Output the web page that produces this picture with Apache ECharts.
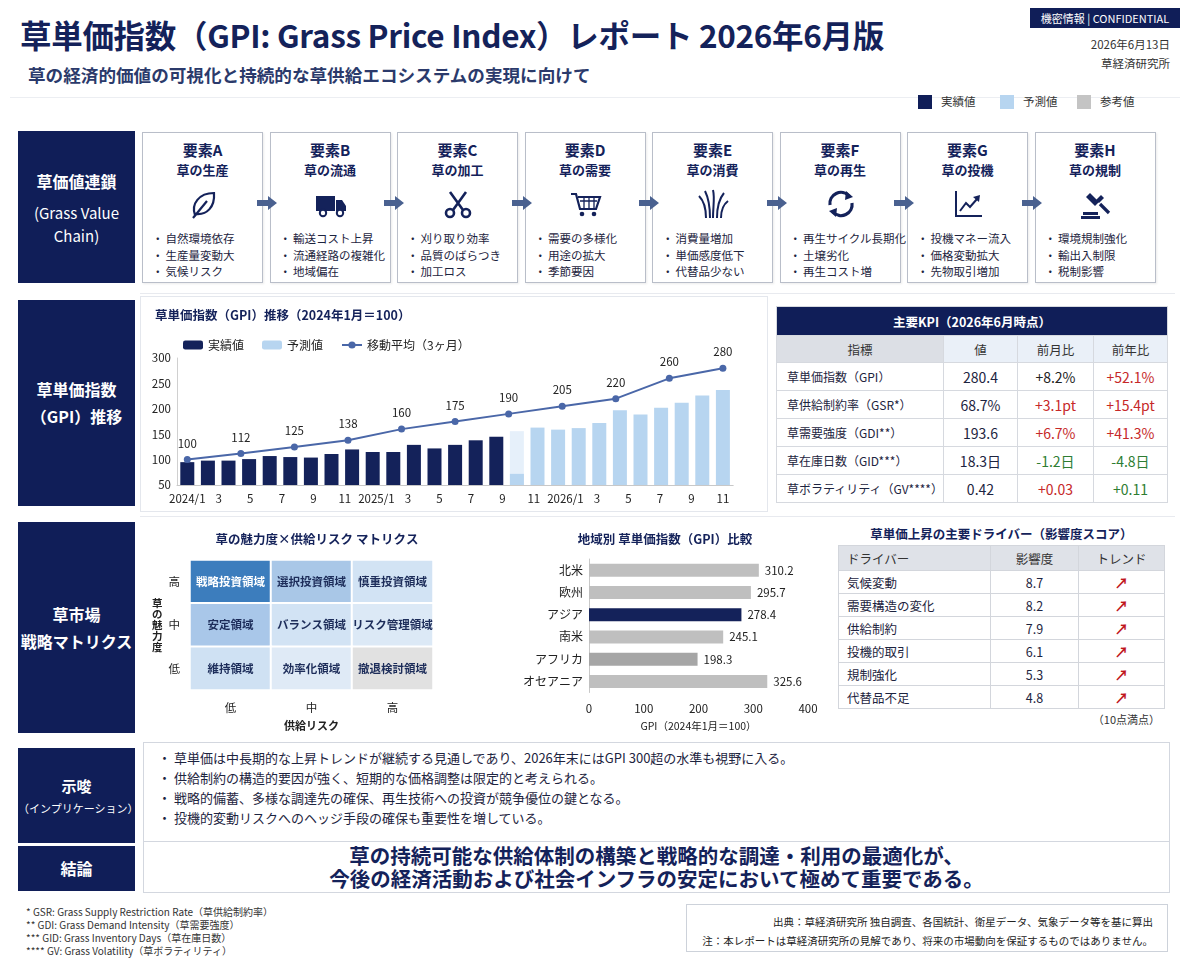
<!DOCTYPE html>
<html lang="ja">
<head>
<meta charset="utf-8">
<title>草単価指数（GPI）レポート 2026年6月版</title>
<script src="https://cdn.jsdelivr.net/npm/echarts@6.0.0/dist/echarts.min.js"></script>
<style>
* { box-sizing: border-box; margin: 0; padding: 0; }
body { width: 1200px; height: 960px; position: relative; background: #fff; overflow: hidden;
  font-family: "Noto Sans CJK JP", "Noto Sans", sans-serif; color: #1d2440; }
.abs { position: absolute; }
.side { position: absolute; left: 18px; width: 117px; background: #101e58; color: #fff;
  display: flex; flex-direction: column; justify-content: center; align-items: center;
  text-align: center; font-weight: bold; font-size: 16px; line-height: 27px; }
.panel { position: absolute; border: 1px solid #e4e7ed; background: #fff; }
.chain { position: absolute; top: 132px; width: 121px; height: 151px; border: 1px solid #b9bec9;
  background: #fff; box-shadow: 1px 1px 2px rgba(0,0,0,0.08); }
.chain .t1 { position: absolute; top: 6px; width: 100%; text-align: center; font-weight: bold; font-size: 15px; color: #14225a; }
.chain .t2 { position: absolute; top: 27px; width: 100%; text-align: center; font-weight: bold; font-size: 13px; color: #14225a; }
.chain svg { position: absolute; top: 55px; left: 44px; width: 32px; height: 32px; }
.chain ul { position: absolute; top: 97px; left: 9px; list-style: none; font-size: 11.5px; line-height: 16.5px; color: #1d2440; white-space: nowrap; }
.chain li::before { content: "・"; margin-right: 2px; }
.arrow { position: absolute; top: 196px; width: 20px; height: 14px; }
table { border-collapse: collapse; position: absolute; }
#kpi { left: 776px; top: 306px; width: 392px; font-size: 12px; }
#kpi td, #kpi th { border: 1px solid #d6d9df; height: 28px; text-align: center; white-space: nowrap; }
#kpi .ttl { background: #101e58; color: #fff; font-weight: bold; font-size: 12.5px; height: 29px; }
#kpi .hd th { font-weight: normal; color: #333; background: #eaf0f8; height: 27px; font-size: 12.5px; }
#kpi .hd th:first-child { background: #dcdfe5; }
#kpi td:first-child { text-align: left; padding-left: 10px; }
#drv { left: 838px; top: 545px; width: 327px; font-size: 12.5px; }
#drv td, #drv th { border: 1px solid #d3d6dc; height: 23px; text-align: center; }
#drv th { background: #dfe2e8; font-weight: normal; color: #333; height: 25px; }
#drv th:first-child, #drv td:first-child { text-align: left; padding-left: 8px; }
#drv .up { color: #c0161c; font-weight: bold; font-size: 14px; }
.box { position: absolute; left: 143px; width: 1027px; border: 1px solid #d3d7df; background: #fff; }
</style>
</head>
<body>

<!-- header -->
<div class="abs" style="left:20px;top:11px;font-size:31.5px;font-weight:bold;color:#14225a;letter-spacing:-0.3px;white-space:nowrap;">草単価指数（GPI: Grass Price Index）レポート 2026年6月版</div>
<div class="abs" style="left:28px;top:62px;font-size:17.6px;font-weight:bold;color:#2b3a6b;white-space:nowrap;">草の経済的価値の可視化と持続的な草供給エコシステムの実現に向けて</div>
<div class="abs" style="left:1030px;top:8px;width:150px;height:20px;background:#101e58;color:#fff;font-size:11px;line-height:20px;text-align:center;">機密情報 | CONFIDENTIAL</div>
<div class="abs" style="right:30px;top:35px;font-size:11.5px;color:#333;text-align:right;line-height:19px;">2026年6月13日<br>草経済研究所</div>
<div class="abs" style="left:10px;top:97px;width:1170px;height:1px;background:#eceef2;"></div>
<div class="abs" style="left:918px;top:95px;width:14px;height:14px;background:#101e58;"></div>
<div class="abs" style="left:941px;top:93px;font-size:11.5px;color:#333;">実績値</div>
<div class="abs" style="left:1000px;top:95px;width:14px;height:14px;background:#b7d5f0;"></div>
<div class="abs" style="left:1023px;top:93px;font-size:11.5px;color:#333;">予測値</div>
<div class="abs" style="left:1077px;top:95px;width:14px;height:14px;background:#c4c4c4;"></div>
<div class="abs" style="left:1100px;top:93px;font-size:11.5px;color:#333;">参考値</div>

<!-- section 1: value chain -->
<div class="side" style="top:131px;height:152px;">草価値連鎖<span style="font-weight:normal;font-size:15px;line-height:23px;margin-top:6px;">(Grass Value<br>Chain)</span></div>
<div id="chainRow"></div>
<div class="abs" style="left:140px;top:293px;width:1035px;height:1px;background:#e8eaef;"></div>

<!-- section 2: GPI trend + KPI -->
<div class="side" style="top:300px;height:206px;">草単価指数<br>（GPI）推移</div>
<div class="panel" style="left:140px;top:296px;width:628px;height:216px;"></div>
<div id="trend" class="abs" style="left:140px;top:298px;width:625px;height:212px;"></div>
<table id="kpi"></table>

<!-- section 3: matrix -->
<div class="side" style="top:522px;height:211px;">草市場<br>戦略マトリクス</div>
<div class="abs" style="left:140px;top:516px;width:1035px;height:1px;background:#e8eaef;"></div>
<div id="matrix" class="abs" style="left:140px;top:518px;width:380px;height:218px;"></div>
<div id="region" class="abs" style="left:520px;top:518px;width:310px;height:218px;"></div>
<div class="abs" style="left:838px;top:524px;width:327px;text-align:center;font-size:12.5px;font-weight:bold;color:#14225a;">草単価上昇の主要ドライバー（影響度スコア）</div>
<table id="drv"></table>
<div class="abs" style="left:1000px;top:711px;width:160px;text-align:right;font-size:11px;color:#333;">（10点満点）</div>

<!-- implications -->
<div class="side" style="top:748px;height:95px;font-size:15px;line-height:24px;">示唆<span style="font-size:11px;font-weight:normal;line-height:20px;">（インプリケーション）</span></div>
<div class="box" style="top:742px;height:105px;">
  <ul id="impl" style="list-style:none;position:absolute;left:14px;top:5px;font-size:13px;line-height:20px;color:#1d2440;white-space:nowrap;"></ul>
</div>

<!-- conclusion -->
<div class="side" style="top:846px;height:45px;">結論</div>
<div class="box" style="top:841px;height:52px;text-align:center;font-size:20.5px;font-weight:bold;color:#14225a;line-height:23px;padding-top:2px;white-space:nowrap;">
草の持続可能な供給体制の構築と戦略的な調達・利用の最適化が、<br>今後の経済活動および社会インフラの安定において極めて重要である。
</div>

<!-- footnotes -->
<div class="abs" style="left:26px;top:905px;font-size:10px;line-height:13px;color:#333;">
* GSR: Grass Supply Restriction Rate（草供給制約率）<br>
** GDI: Grass Demand Intensity（草需要強度）<br>
*** GID: Grass Inventory Days（草在庫日数）<br>
**** GV: Grass Volatility（草ボラティリティ）
</div>
<div class="abs" style="left:686px;top:904px;width:482px;height:48px;border:1px solid #cdd2da;text-align:right;padding:7px 14px 0 0;font-size:10.5px;line-height:19px;color:#222;white-space:nowrap;">
出典：草経済研究所 独自調査、各国統計、衛星データ、気象データ等を基に算出<br>
注：本レポートは草経済研究所の見解であり、将来の市場動向を保証するものではありません。
</div>

<script>
"use strict";

// ---- value chain ----
var chainKeys = ['要素A', '要素B', '要素C', '要素D', '要素E', '要素F', '要素G', '要素H'];
var chainNames = ['草の生産', '草の流通', '草の加工', '草の需要', '草の消費', '草の再生', '草の投機', '草の規制'];
var chainPoints = [
    ['自然環境依存', '生産量変動大', '気候リスク'],
    ['輸送コスト上昇', '流通経路の複雑化', '地域偏在'],
    ['刈り取り効率', '品質のばらつき', '加工ロス'],
    ['需要の多様化', '用途の拡大', '季節要因'],
    ['消費量増加', '単価感度低下', '代替品少ない'],
    ['再生サイクル長期化', '土壌劣化', '再生コスト増'],
    ['投機マネー流入', '価格変動拡大', '先物取引増加'],
    ['環境規制強化', '輸出入制限', '税制影響']
];

// ---- GPI trend ----
var trendLabels = ['2024/1', '3', '5', '7', '9', '11', '2025/1', '3', '5', '7', '9', '11', '2026/1', '3', '5', '7', '9', '11'];
var actualGpi = [95, 98, 98, 101, 107, 105, 104, 111, 120, 115, 115, 129, 122, 129, 138, 145,
    null, null, null, null, null, null, null, null, null, null, null];
var forecastGpi = [null, null, null, null, null, null, null, null, null, null, null, null, null, null, null, null,
    72, 163, 159, 162, 172, 197, 189, 202, 212, 226, 237];
var forecastFaint = [null, null, null, null, null, null, null, null, null, null, null, null, null, null, null, null,
    156, null, null, null, null, null, null, null, null, null, null];
var movingAvg = [100, 112, 125, 138, 160, 175, 190, 205, 220, 260, 280];

// ---- KPI ----
var kpiNames = ['草単価指数（GPI）', '草供給制約率（GSR*）', '草需要強度（GDI**）', '草在庫日数（GID***）', '草ボラティリティ（GV****）'];
var kpiValues = ['280.4', '68.7%', '193.6', '18.3日', '0.42'];
var kpiMoM = ['+8.2%', '+3.1pt', '+6.7%', '-1.2日', '+0.03'];
var kpiYoY = ['+52.1%', '+15.4pt', '+41.3%', '-4.8日', '+0.11'];

// ---- matrix ----
var riskLevels = ['低', '中', '高'];
var appealLevels = ['低', '中', '高'];
var matrixCells = [
    [0, 2, '戦略投資領域'], [1, 2, '選択投資領域'], [2, 2, '慎重投資領域'],
    [0, 1, '安定領域'], [1, 1, 'バランス領域'], [2, 1, 'リスク管理領域'],
    [0, 0, '維持領域'], [1, 0, '効率化領域'], [2, 0, '撤退検討領域']
];

// ---- regions ----
var regions = ['北米', '欧州', 'アジア', '南米', 'アフリカ', 'オセアニア'];
var regionGpi = [310.2, 295.7, 278.4, 245.1, 198.3, 325.6];

// ---- drivers ----
var drivers = ['気候変動', '需要構造の変化', '供給制約', '投機的取引', '規制強化', '代替品不足'];
var driverScores = [8.7, 8.2, 7.9, 6.1, 5.3, 4.8];

// ---- implications ----
var implications = [
    '草単価は中長期的な上昇トレンドが継続する見通しであり、2026年末にはGPI 300超の水準も視野に入る。',
    '供給制約の構造的要因が強く、短期的な価格調整は限定的と考えられる。',
    '戦略的備蓄、多様な調達先の確保、再生技術への投資が競争優位の鍵となる。',
    '投機的変動リスクへのヘッジ手段の確保も重要性を増している。'
];

var NAVY = '#14225a';
var FONT = '"Noto Sans CJK JP", "Noto Sans", sans-serif';

var icons = [
    '<path d="M8 27 C4 16 12 5 27 5 C28 19 20 27 9 26 Z" fill="none" stroke="#14225a" stroke-width="2.2"/><path d="M6 30 L20 13" stroke="#14225a" stroke-width="2.2"/>',
    '<rect x="1" y="8" width="19" height="15" fill="#14225a"/><path d="M21 12 h6 l4 6 v5 h-10 z" fill="#14225a"/><circle cx="8" cy="25" r="3.2" fill="#fff" stroke="#14225a" stroke-width="2"/><circle cx="25" cy="25" r="3.2" fill="#fff" stroke="#14225a" stroke-width="2"/>',
    '<circle cx="8" cy="25" r="4" fill="none" stroke="#14225a" stroke-width="2.6"/><circle cx="24" cy="25" r="4" fill="none" stroke="#14225a" stroke-width="2.6"/><path d="M11 22 L24 4 M21 22 L8 4" stroke="#14225a" stroke-width="2.6"/>',
    '<path d="M1 6 h5 l4 15 h16 l4 -12 h-22" fill="none" stroke="#14225a" stroke-width="2.2"/><path d="M10 13 h17 M14 9 v12 M19 9 v12 M24 9 v12" stroke="#14225a" stroke-width="1.3"/><circle cx="12" cy="26" r="2.3" fill="#14225a"/><circle cx="24" cy="26" r="2.3" fill="#14225a"/>',
    '<path d="M9 30 C9 20 6 12 2 8 M13 30 C13 18 11 9 8 3 M16 30 C16 18 18 10 16 2 M20 30 C20 19 22 11 27 5 M24 30 C24 22 27 16 31 13" fill="none" stroke="#14225a" stroke-width="2"/>',
    '<path d="M5 17 A11 11 0 0 1 24 8" fill="none" stroke="#14225a" stroke-width="3.2"/><path d="M21 3 L28 9 L20 12 Z" fill="#14225a"/><path d="M27 15 A11 11 0 0 1 8 24" fill="none" stroke="#14225a" stroke-width="3.2"/><path d="M11 29 L4 23 L12 20 Z" fill="#14225a"/>',
    '<path d="M4 3 V28 H30" fill="none" stroke="#14225a" stroke-width="2"/><path d="M8 23 L14 15 L18 19 L25 11" fill="none" stroke="#14225a" stroke-width="2"/><path d="M21 9 L28 7 L27 14 Z" fill="#14225a"/>',
    '<path d="M10 5 L19 14 L15 18 L6 9 Z" fill="#14225a"/><path d="M16 12 L21 7 L24 10 L19 15 Z" fill="#14225a"/><path d="M20 16 L29 25" stroke="#14225a" stroke-width="3.2"/><rect x="3" y="24" width="15" height="3" fill="#14225a"/><rect x="1" y="28" width="19" height="3" fill="#14225a"/>'
];

function build_chain() {
    var html = '';
    for (var i = 0; i < chainKeys.length; i++) {
        var left = 142 + i * 127.5;
        html += '<div class="chain" style="left:' + left + 'px;">' +
            '<div class="t1">' + chainKeys[i] + '</div>' +
            '<div class="t2">' + chainNames[i] + '</div>' +
            '<svg viewBox="0 0 32 32">' + icons[i] + '</svg>' +
            '<ul><li>' + chainPoints[i].join('</li><li>') + '</li></ul></div>';
        if (i > 0) {
            html += '<svg class="arrow" style="left:' + (left - 13) + 'px;" viewBox="0 0 20 14">' +
                '<path d="M0 4 H11 V0 L20 7 L11 14 V10 H0 Z" fill="#4a6190"/></svg>';
        }
    }
    document.getElementById('chainRow').innerHTML = html;
}

function build_kpi() {
    var red = '#c62828', green = '#2e7d32', black = '#222';
    var momColors = [black, red, red, green, red];
    var yoyColors = [red, red, red, green, green];
    var html = '<tr><th colspan="4" class="ttl">主要KPI（2026年6月時点）</th></tr>' +
        '<tr class="hd"><th style="width:162px;">指標</th><th style="width:74px;">値</th><th style="width:76px;">前月比</th><th>前年比</th></tr>';
    for (var i = 0; i < kpiNames.length; i++) {
        html += '<tr><td>' + kpiNames[i] + '</td><td style="font-size:14px;">' + kpiValues[i] + '</td>' +
            '<td style="font-size:14px;color:' + momColors[i] + ';">' + kpiMoM[i] + '</td>' +
            '<td style="font-size:14px;color:' + yoyColors[i] + ';">' + kpiYoY[i] + '</td></tr>';
    }
    document.getElementById('kpi').innerHTML = html;
}

function build_drivers() {
    var html = '<tr><th style="width:152px;">ドライバー</th><th style="width:88px;">影響度</th><th>トレンド</th></tr>';
    for (var i = 0; i < drivers.length; i++) {
        html += '<tr><td>' + drivers[i] + '</td><td>' + driverScores[i].toFixed(1) + '</td><td class="up">↗</td></tr>';
    }
    document.getElementById('drv').innerHTML = html;
}

function build_impl() {
    var html = '';
    for (var i = 0; i < implications.length; i++) {
        html += '<li><span style="display:inline-block;width:16px;">・</span>' + implications[i] + '</li>';
    }
    document.getElementById('impl').innerHTML = html;
}

build_chain();
build_kpi();
build_drivers();
build_impl();

// ---- trend chart ----
// grid 0 holds the bars (one band per bar); grid 1 runs from the centre of the
// first bar to the centre of the last one and carries the month labels and the line
var barBand = 20.6;
var barLeft = 37;
var barGridWidth = barBand * actualGpi.length;
var trendChart = echarts.init(document.getElementById('trend'));
var barKeys = actualGpi.map(function (v, i) { return 'b' + i; });
var avgKeys = movingAvg.map(function (v, i) { return 'm' + i; });
trendChart.setOption({
    textStyle: { fontFamily: FONT },
    title: {
        text: '草単価指数（GPI）推移（2024年1月＝100）',
        left: 10, top: 6,
        textStyle: { fontSize: 12.5, fontWeight: 'bold', color: NAVY }
    },
    legend: {
        data: ['実績値', '予測値', '移動平均（3ヶ月）'],
        left: 38, top: 36,
        itemWidth: 20, itemHeight: 9, itemGap: 18,
        textStyle: { fontSize: 12, color: '#222' }
    },
    grid: [
        { left: barLeft, top: 60, width: barGridWidth, height: 127 },
        { left: barLeft + barBand / 2, top: 60, width: barGridWidth - barBand, height: 127 }
    ],
    xAxis: [
        {
            type: 'category', gridIndex: 0, data: barKeys, boundaryGap: true,
            axisLine: { lineStyle: { color: '#c8c8c8' } },
            axisTick: { show: false }, axisLabel: { show: false }
        },
        {
            type: 'category', gridIndex: 1, data: trendLabels, boundaryGap: false,
            axisLine: { show: false }, axisTick: { show: false },
            axisLabel: { fontSize: 11.5, color: '#222', margin: 8, interval: 0 }
        },
        { type: 'category', gridIndex: 1, data: avgKeys, boundaryGap: false, position: 'bottom', show: false }
    ],
    yAxis: [
        {
            type: 'value', gridIndex: 0, min: 50, max: 300, interval: 50,
            axisLine: { show: true, lineStyle: { color: '#d0d0d0' } },
            axisTick: { show: false },
            splitLine: { show: false },
            axisLabel: { fontSize: 11.5, color: '#222', margin: 6 }
        },
        { type: 'value', gridIndex: 1, min: 50, max: 300, interval: 50, show: false, splitLine: { show: false } }
    ],
    series: [
        {
            name: '実績値', type: 'bar', xAxisIndex: 0, yAxisIndex: 0, data: actualGpi,
            barWidth: 14, barGap: '-100%',
            itemStyle: { color: NAVY }
        },
        {
            name: '予測値', type: 'bar', xAxisIndex: 0, yAxisIndex: 0, data: forecastGpi,
            barWidth: 14, barGap: '-100%', z: 3,
            itemStyle: { color: '#b7d5f0' }
        },
        {
            name: '予測値(参考)', type: 'bar', xAxisIndex: 0, yAxisIndex: 0, data: forecastFaint,
            barWidth: 14, barGap: '-100%', z: 1,
            itemStyle: { color: 'rgba(183,213,240,0.35)' }
        },
        {
            name: '移動平均（3ヶ月）', type: 'line', xAxisIndex: 2, yAxisIndex: 1, data: movingAvg,
            symbol: 'circle', symbolSize: 7, z: 5,
            lineStyle: { color: '#4a67a8', width: 2 },
            itemStyle: { color: '#4a67a8' },
            label: { show: true, position: 'top', distance: 7, fontSize: 11.5, color: '#222' }
        }
    ]
});

// ---- matrix ----
var matrixColors = ['#3c7dbd', '#a9c7e7', '#d2e3f4', '#a9c7e9', '#d2e3f4', '#dce9f6', '#cfe1f3', '#dfeaf6', '#e1e1e1'];
var matrixChart = echarts.init(document.getElementById('matrix'));
matrixChart.setOption({
    textStyle: { fontFamily: FONT },
    title: {
        text: '草の魅力度×供給リスク マトリクス',
        left: 172, top: 10, textAlign: 'center',
        textStyle: { fontSize: 12.5, fontWeight: 'bold', color: NAVY }
    },
    grid: { left: 50, top: 42, width: 243, height: 130 },
    xAxis: {
        type: 'category', data: riskLevels,
        name: '供給リスク', nameLocation: 'middle', nameGap: 30,
        nameTextStyle: { fontSize: 11, color: '#222', fontWeight: 'bold' },
        axisLine: { show: false }, axisTick: { show: false },
        axisLabel: { fontSize: 11.5, color: '#222', margin: 12 }
    },
    yAxis: {
        type: 'category', data: appealLevels,
        name: '草\nの\n魅\n力\n度', nameLocation: 'middle', nameGap: 26, nameRotate: 0,
        nameTextStyle: { fontSize: 10.5, color: '#222', fontWeight: 'bold', lineHeight: 11 },
        axisLine: { show: false }, axisTick: { show: false },
        axisLabel: { fontSize: 11.5, color: '#222', margin: 10 }
    },
    visualMap: {
        show: false, type: 'piecewise', dimension: 2,
        pieces: matrixColors.map(function (c, i) { return { value: i, color: c }; })
    },
    series: [{
        type: 'heatmap',
        data: matrixCells.map(function (c, i) {
            return {
                name: c[2], value: [c[0], c[1], i],
                label: { color: i === 0 ? '#fff' : '#1d2d5a' }
            };
        }),
        itemStyle: { borderColor: '#fff', borderWidth: 2 },
        label: {
            show: true, fontSize: 11.5, fontWeight: 'bold',
            formatter: function (p) { return p.name; }
        }
    }]
});

// ---- region chart ----
var regionColors = ['#bfbfbf', '#bfbfbf', NAVY, '#bfbfbf', '#a6a6a6', '#bfbfbf'];
var regionChart = echarts.init(document.getElementById('region'));
regionChart.setOption({
    textStyle: { fontFamily: FONT },
    title: {
        text: '地域別 草単価指数（GPI）比較',
        left: 140, top: 10, textAlign: 'center',
        textStyle: { fontSize: 12.5, fontWeight: 'bold', color: NAVY }
    },
    grid: { left: 48, right: 22, top: 41, height: 135 },
    xAxis: {
        type: 'value', min: 0, max: 400, interval: 100,
        name: 'GPI（2024年1月＝100）', nameLocation: 'middle', nameGap: 28,
        nameTextStyle: { fontSize: 10.5, color: '#222' },
        axisLine: { show: false }, axisTick: { show: false }, splitLine: { show: false },
        axisLabel: { fontSize: 11.5, color: '#222', margin: 10 }
    },
    yAxis: {
        type: 'category', data: regions, inverse: true,
        axisLine: { lineStyle: { color: '#c8c8c8' } }, axisTick: { show: false },
        axisLabel: { fontSize: 12, color: '#222', margin: 6 }
    },
    series: [{
        type: 'bar', data: regionGpi, barWidth: 13,
        itemStyle: { color: function (p) { return regionColors[p.dataIndex]; } },
        label: { show: true, position: 'right', distance: 6, fontSize: 11.5, color: '#222',
            formatter: function (p) { return p.value.toFixed(1); } }
    }]
});
</script>
</body>
</html>
